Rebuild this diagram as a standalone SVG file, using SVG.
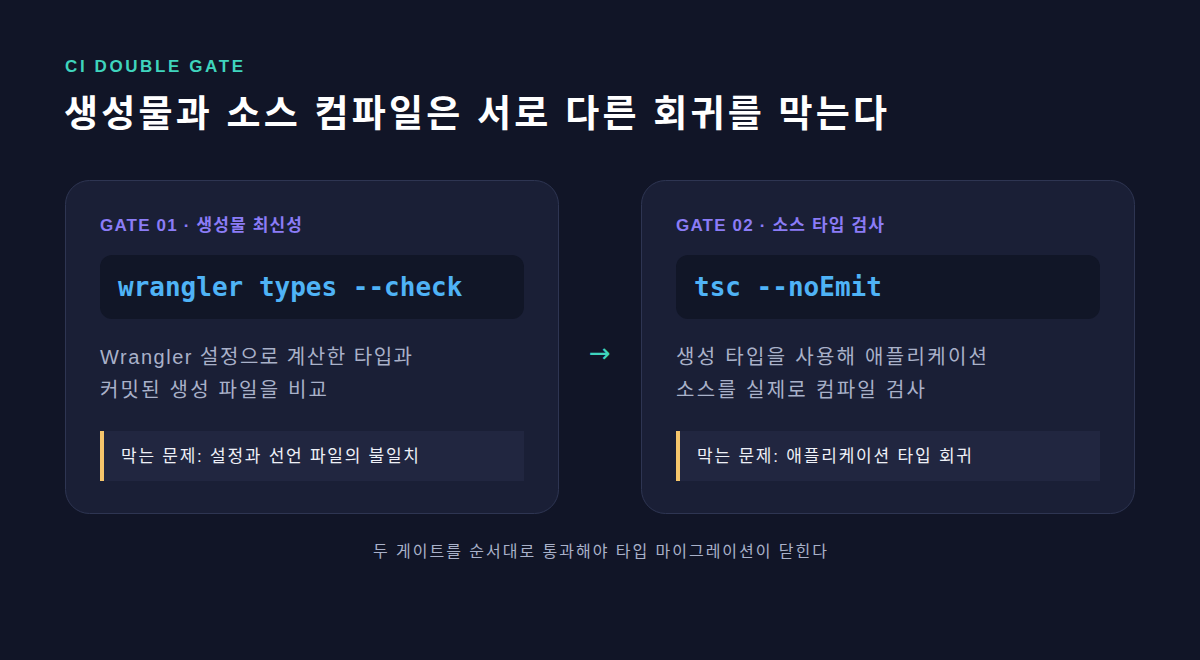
<svg xmlns="http://www.w3.org/2000/svg" width="1200" height="660" viewBox="0 0 1200 660">
<style>
.card{fill:#1a1f36;stroke:#2e3552;stroke-width:1}
.code{fill:#111627}
.prob{fill:#212640}
.bar{fill:#f5c56b}
.gate{font-family:"Liberation Sans","Noto Sans CJK KR",sans-serif;font-size:17px;font-weight:bold;fill:#8b7cf6}
.mono{font-family:"DejaVu Sans Mono","Liberation Mono",monospace;font-size:26px;font-weight:bold;fill:#4fb3f6}
.desc{font-family:"Liberation Sans","Noto Sans CJK KR",sans-serif;font-size:20px;fill:#a9b1c9}
.pt{font-family:"Liberation Sans","Noto Sans CJK KR",sans-serif;font-size:17px;fill:#eef0f7}
</style>
<rect width="1200" height="660" fill="#111527"/>
<text x="65" y="72" font-family="Liberation Sans,sans-serif" font-size="17" font-weight="bold" letter-spacing="2.6" fill="#3fd4bd">CI DOUBLE GATE</text>
<text x="64" y="127" textLength="823" font-family="Liberation Sans,'Noto Sans CJK KR',sans-serif" font-size="37" font-weight="bold" fill="#ffffff">생성물과 소스 컴파일은 서로 다른 회귀를 막는다</text>
<g id="gate1">
<rect class="card" x="65.5" y="180.5" width="493" height="333" rx="24"/>
<text class="gate" x="100" y="231" textLength="202">GATE 01 · 생성물 최신성</text>
<rect class="code" x="100" y="255" width="424" height="64" rx="12"/>
<text class="mono" x="118" y="296">wrangler types --check</text>
<text class="desc" x="100" y="364" textLength="312">Wrangler 설정으로 계산한 타입과</text>
<text class="desc" x="100" y="397" textLength="227">커밋된 생성 파일을 비교</text>
<rect class="prob" x="100" y="431" width="424" height="50"/>
<rect class="bar" x="100" y="431" width="4" height="50"/>
<text class="pt" x="121" y="462" textLength="298">막는 문제: 설정과 선언 파일의 불일치</text>
</g>
<g id="gate2">
<rect class="card" x="641.5" y="180.5" width="493" height="333" rx="24"/>
<text class="gate" x="676" y="231" textLength="208">GATE 02 · 소스 타입 검사</text>
<rect class="code" x="676" y="255" width="424" height="64" rx="12"/>
<text class="mono" x="694" y="296">tsc --noEmit</text>
<text class="desc" x="676" y="364" textLength="311">생성 타입을 사용해 애플리케이션</text>
<text class="desc" x="676" y="397" textLength="249">소스를 실제로 컴파일 검사</text>
<rect class="prob" x="676" y="431" width="424" height="50"/>
<rect class="bar" x="676" y="431" width="4" height="50"/>
<text class="pt" x="697" y="462" textLength="275">막는 문제: 애플리케이션 타입 회귀</text>
</g>
<g id="connectors">
<text x="600" y="362" text-anchor="middle" font-family="DejaVu Sans,sans-serif" font-size="26" fill="#3fd4bd">→</text>
</g>
<text x="373" y="557" textLength="454" font-family="Liberation Sans,'Noto Sans CJK KR',sans-serif" font-size="16" fill="#a9b1c9">두 게이트를 순서대로 통과해야 타입 마이그레이션이 닫힌다</text>
</svg>
